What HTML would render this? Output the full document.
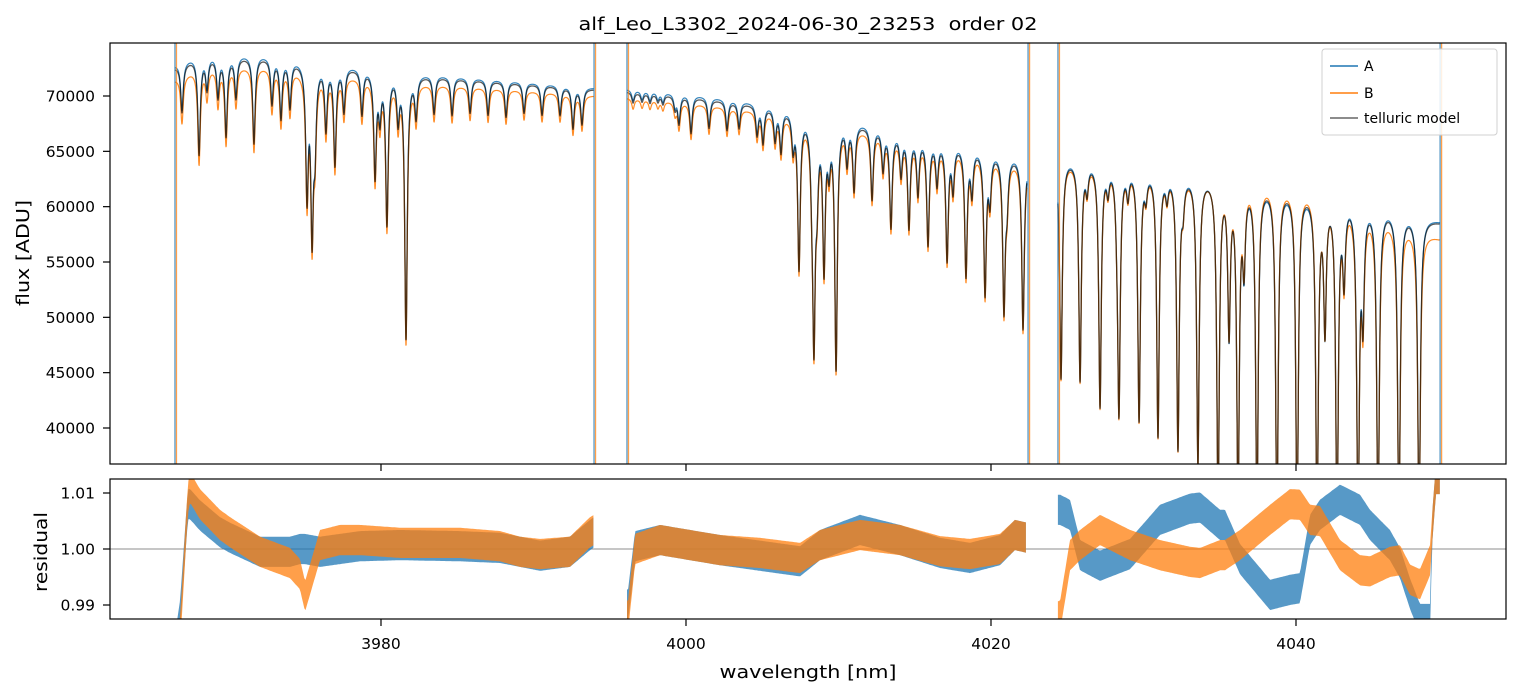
<!DOCTYPE html>
<html><head><meta charset="utf-8"><style>
html,body{margin:0;padding:0;background:#fff;}
svg{display:block;font-family:"DejaVu Sans","Liberation Sans",sans-serif;}
</style></head><body>
<svg id="chart" width="1520" height="696" viewBox="0 0 1520 696" xmlns="http://www.w3.org/2000/svg">
<defs>
<clipPath id="clipTop"><rect x="110" y="43" width="1396" height="421"/></clipPath>
<clipPath id="clipBot"><rect x="110" y="479" width="1396" height="140"/></clipPath>
</defs>
<rect width="1520" height="696" fill="#fff"/>
<text x="808" y="30" text-anchor="middle" font-size="18" textLength="459" lengthAdjust="spacingAndGlyphs" fill="#000" style="white-space:pre" xml:space="preserve">alf_Leo_L3302_2024-06-30_23253  order 02</text>
<g id="topMarks" clip-path="url(#clipTop)"></g>
<g id="botMarks" clip-path="url(#clipBot)"></g>
<g id="axes"></g>
<text transform="translate(29,253) rotate(-90)" text-anchor="middle" font-size="18" textLength="106" lengthAdjust="spacingAndGlyphs">flux [ADU]</text>
<text transform="translate(47,552) rotate(-90)" text-anchor="middle" font-size="18" textLength="80" lengthAdjust="spacingAndGlyphs">residual</text>
<text x="808" y="678" text-anchor="middle" font-size="18" textLength="177" lengthAdjust="spacingAndGlyphs">wavelength [nm]</text>
<g>
<rect x="1322" y="49" width="175" height="86" rx="3" fill="#fff" fill-opacity="0.85" stroke="#d0d0d0"/>
<g><line x1="1330" y1="66" x2="1358" y2="66" stroke="#1f77b4" stroke-width="1.5"/><text x="1364" y="71" font-size="14">A</text></g>
<g><line x1="1330" y1="93" x2="1358" y2="93" stroke="#ff7f0e" stroke-width="1.5"/><text x="1364" y="98" font-size="14">B</text></g>
<g><line x1="1330" y1="118" x2="1358" y2="118" stroke="#000" stroke-opacity="0.6" stroke-width="1.5"/><text x="1364" y="123" font-size="14">telluric model</text></g>
</g>
</svg>
<script>
// ---- data ----
const segments = [[3966.49, 3993.97], [3996.13, 4022.36], [4024.39, 4049.45]];
const contWave = [3966.5, 3968, 3972, 3975, 3978.6, 3981, 3985.2, 3989, 3994, 3996.1, 4000, 4004, 4007, 4009, 4010.5, 4014, 4018, 4022.4, 4024.4, 4026, 4033, 4038, 4043.5, 4049.5];
const contFlux = [72600, 73500, 73550, 73100, 72500, 72100, 71600, 71200, 70600, 70400, 70000, 69300, 68700, 68000, 67800, 66700, 65700, 64400, 64400, 64400, 63100, 62200, 61000, 58600];
const lineCenters = [3966.95, 3968.07, 3968.59, 3969.31, 3969.84, 3970.49, 3971.67, 3972.85, 3973.44, 3974.03, 3975.15, 3975.48, 3975.67, 3976.39, 3976.98, 3977.57, 3978.75, 3979.61, 3979.93, 3980.39, 3981.12, 3981.64, 3982.30, 3983.48, 3984.66, 3985.84, 3987.02, 3988.20, 3989.38, 3990.56, 3991.74, 3992.59, 3993.18,
 3996.53, 3997.12, 3997.64, 3998.16, 3998.49, 3999.28,
 3999.54, 4000.33, 4001.51, 4002.69, 4003.48, 4004.66, 4005.05, 4005.84, 4006.23, 4007.02, 4007.41, 4008.26, 4008.39, 4008.59, 4009.05, 4009.38, 4009.84, 4010.56, 4011.02, 4012.20, 4012.92, 4013.44, 4014.10, 4014.62, 4015.21, 4015.87, 4016.46, 4017.12, 4017.51, 4018.36, 4018.75, 4019.61, 4019.93, 4020.85, 4021.05, 4022.10,
 4024.59, 4025.84, 4026.30, 4027.15, 4027.67, 4028.26, 4028.39, 4028.98, 4029.71, 4030.16, 4030.95, 4031.54, 4032.26, 4032.59, 4033.57, 4034.89, 4035.61, 4036.20, 4036.59, 4037.44, 4038.75, 4040.07, 4041.38, 4041.90, 4042.69, 4043.15, 4044.07, 4044.39, 4045.38, 4046.75, 4048.07];
const lineMinFlux = [68554, 64760, 70723, 70000, 66476, 69910, 65753, 69367, 68102, 69096, 61235, 57892, 66295, 67199, 63946, 68735, 68464, 62862, 68464, 58615, 68102, 48133, 68283, 68464, 68283, 68464, 68283, 68102, 68464, 68283, 68283, 67108, 67470,
 69400, 69500, 69400, 69500, 69300, 68900,
 67560, 66657, 67108, 66928, 67108, 66566, 65843, 66114, 65120, 65572, 54638, 64217, 48404, 62410, 54638, 64217, 45512, 64217, 61687, 60783, 63494, 58253, 63042, 58253, 61325, 56717, 62229, 55361, 61777, 53916, 61506, 52289, 60874, 50843, 61054, 49000,
 44519, 44428, 61958, 42079, 61958, 61235, 41808, 61506, 40814, 61506, 39368, 61325, 38284, 60603, 36838, 33000, 48946, 33000, 55181, 32000, 31000, 31000, 31000, 49307, 31000, 53826, 31000, 50482, 31000, 31000, 31000];
const ratioWave = [3966.5, 3970, 3994, 3996, 4022, 4024.4, 4033, 4037, 4041, 4043, 4044, 4049.5];
const ratioA = [1.003, 1.003, 1.002, 1.003, 1.003, 1.002, 1.002, 0.998, 0.997, 1.001, 1.003, 1.002];
const ratioB = [0.985, 0.988, 0.992, 0.992, 0.993, 0.997, 0.998, 1.004, 1.004, 0.994, 0.99, 0.975];
const residWave = [3966.6, 3966.82, 3967.34, 3967.48, 3968.13, 3969.44, 3970.10, 3972.07, 3974.03, 3974.69, 3975.02, 3976.00, 3977.31, 3978.62, 3981.25, 3985.18, 3987.80, 3989.12, 3990.43, 3992.39, 3993.71, 3993.97,
 3996.2, 3996.66, 3998.30, 4000.26, 4002.23, 4004.85, 4007.48, 4008.79, 4011.41, 4014.03, 4016.66, 4018.62, 4020.59, 4021.57, 4022.36,
 4024.53, 4025.18, 4025.84, 4027.15, 4029.12, 4031.08, 4033.05, 4033.71, 4035.02, 4035.34, 4036.33, 4038.30, 4039.61, 4040.26, 4040.92, 4041.57, 4042.89, 4044.20, 4044.85, 4046.16, 4046.82, 4047.48, 4048.13, 4048.79, 4048.92, 4049.18];
const residA = [0.984, 0.988, 1.008, 1.008, 1.006, 1.003, 1.002, 0.9995, 0.9995, 1.0, 1.0, 0.9995, 1.0, 1.0005, 1.0007, 1.0005, 1.0002, 0.9995, 0.9988, 0.9995, 1.0025, 1.003,
 0.990, 1.0005, 1.0016, 1.0007, 0.9998, 0.9988, 0.9978, 1.0007, 1.0034, 1.0016, 0.9993, 0.9984, 0.9998, 1.0025, 1.002,
 1.007, 1.0061, 0.9989, 0.997, 0.9991, 1.0052, 1.0072, 1.0074, 1.0043, 1.0043, 0.9982, 0.9918, 0.9927, 0.993, 1.0034, 1.0061, 1.0088, 1.0070, 1.0043, 1.0007, 0.9975, 0.992, 0.9875, 0.9875, 1.0034, 1.0125];
const residB = [0.982, 0.985, 1.009, 1.011, 1.008, 1.0043, 1.003, 0.9995, 0.9975, 0.9955, 0.9915, 1.0007, 1.0016, 1.0016, 1.0011, 1.0011, 1.0005, 0.9995, 0.9991, 0.9995, 1.003, 1.0034,
 0.988, 1.0, 1.0016, 1.0007, 0.9998, 0.9993, 0.9984, 1.0007, 1.0025, 1.0016, 0.9996, 0.9991, 1.0, 1.0025, 1.002,
 0.988, 0.9989, 1.0007, 1.0034, 1.0007, 0.9989, 0.9977, 0.9975, 0.9989, 0.9989, 1.0007, 1.0052, 1.0080, 1.0079, 1.0052, 1.0050, 0.9989, 0.9962, 0.996, 0.9977, 0.9980, 0.9945, 0.9937, 0.998, 1.0034, 1.0125];
const xTicks = [3980, 4000, 4020, 4040];
const yTicksTop = [40000, 45000, 50000, 55000, 60000, 65000, 70000];
const yTicksBot = [0.99, 1.00, 1.01];
const edgeWaves = [3966.49, 3993.97, 3996.13, 4022.43, 4024.39, 4049.45];

// ---- scales ----
const X0 = 110, X1 = 1506;
const xMin = 3962.23, xMax = xMin + (X1 - X0) / 15.25;
const x = v => X0 + (v - xMin) / (xMax - xMin) * (X1 - X0);
const yTop = v => 96 + (70000 - v) * (332 / 30000);
const yBot = v => 549 - (v - 1.0) * 5600;
const NS = 'http://www.w3.org/2000/svg';
function interp(xs, ys, v) {
  if (v <= xs[0]) return ys[0];
  for (let i = 1; i < xs.length; i++) if (v <= xs[i]) { const t = (v - xs[i-1]) / (xs[i] - xs[i-1]); return ys[i-1] + t * (ys[i] - ys[i-1]); }
  return ys[ys.length - 1];
}
const gamma = 0.1;
const depths = lineCenters.map((c, i) => Math.min(0.995, Math.max(0, 1 - lineMinFlux[i] / interp(contWave, contFlux, c))));
function model(l) {
  let f = interp(contWave, contFlux, l);
  for (let i = 0; i < lineCenters.length; i++) {
    const d = (l - lineCenters[i]) / gamma;
    if (Math.abs(d) < 40) f *= 1 - depths[i] / (1 + d * d);
  }
  return f;
}
const topG = document.getElementById('topMarks');
const botG = document.getElementById('botMarks');
const axesG = document.getElementById('axes');
function mk(tag, attrs, parent) { const e = document.createElementNS(NS, tag); for (const k in attrs) e.setAttribute(k, attrs[k]); parent.appendChild(e); return e; }

// ---- flux series ----
const series = [
  { name: 'series-a-line', color: '#1f77b4', r: ratioA, op: 0.9, w: 1.2 },
  { name: 'series-b-line', color: '#ff7f0e', r: ratioB, op: 0.9, w: 1.2 },
  { name: 'telluric-model-line', color: '#000', r: null, op: 0.65, w: 1.3 }
];
series.forEach(s => {
  segments.forEach((seg, si) => {
    let pts = [];
    for (let l = seg[0]; l <= seg[1]; l += 0.012) {
      let f = model(l);
      if (s.r) f *= interp(ratioWave, s.r, l);
      pts.push(x(l).toFixed(2) + ',' + yTop(f).toFixed(2));
    }
    const p = mk('polyline', { points: pts.join(' '), fill: 'none', stroke: s.color, 'stroke-width': s.w, 'stroke-opacity': s.op, 'stroke-linejoin': 'round' }, topG);
    
    
  });
});
edgeWaves.forEach((w, i) => {
  const a = mk('line', { x1: x(w), x2: x(w), y1: 43, y2: 464, stroke: '#1f77b4', 'stroke-width': 1.3, 'stroke-opacity': 0.75 }, topG);
  
  
  const b = mk('line', { x1: x(w) + 1.5, x2: x(w) + 1.5, y1: 43, y2: 464, stroke: '#ff7f0e', 'stroke-width': 1.3, 'stroke-opacity': 0.75 }, topG);
  
  
});

// ---- residuals ----
mk('line', { x1: X0, x2: X1, y1: yBot(1), y2: yBot(1), stroke: '#000', 'stroke-opacity': 0.6, 'stroke-width': 0.8 }, botG);
[[residA, '#1f77b4', 'residual-a'], [residB, '#ff7f0e', 'residual-b']].forEach(([arr, col, nm]) => {
  segments.forEach((seg, si) => {
    const idx = residWave.map((w, i) => i).filter(i => residWave[i] >= seg[0] - 0.2 && residWave[i] <= seg[1] + 0.2);
    const up = [], dn = [];
    for (let l = seg[0]; l <= seg[1]; l += 0.08) {
      const v = interp(idx.map(i => residWave[i]), idx.map(i => arr[i]), l);
      up.push(x(l).toFixed(1) + ',' + yBot(v + 0.0027).toFixed(1));
      dn.unshift(x(l).toFixed(1) + ',' + yBot(v - 0.0027).toFixed(1));
    }
    const b = mk('polygon', { points: up.concat(dn).join(' '), fill: col, 'fill-opacity': 0.75 }, botG);
    
    
  });
});

// ---- axes ----
[[43, 421, 'flux-axes-frame'], [479, 140, 'residual-axes-frame']].forEach(([y, h, nm]) => {
  const r = mk('rect', { x: X0, y: y, width: X1 - X0, height: h, fill: 'none', stroke: '#000', 'stroke-width': 1.2 }, axesG);
  
  
});
xTicks.forEach(t => {
  const px = x(t);
  mk('line', { x1: px, x2: px, y1: 464, y2: 471, stroke: '#000', 'stroke-width': 1.2 }, axesG);
  mk('line', { x1: px, x2: px, y1: 619, y2: 626, stroke: '#000', 'stroke-width': 1.2 }, axesG);
  const tx = mk('text', { x: px, y: 649, 'text-anchor': 'middle', 'font-size': 15.5 }, axesG);
  tx.textContent = t;
  
  
});
yTicksTop.forEach(t => {
  const py = yTop(t);
  mk('line', { x1: X0 - 7, x2: X0, y1: py, y2: py, stroke: '#000', 'stroke-width': 1.2 }, axesG);
  const tx = mk('text', { x: X0 - 15, y: py + 5.5, 'text-anchor': 'end', 'font-size': 15.5 }, axesG);
  tx.textContent = t;
  
  
});
yTicksBot.forEach(t => {
  const py = yBot(t);
  mk('line', { x1: X0 - 7, x2: X0, y1: py, y2: py, stroke: '#000', 'stroke-width': 1.2 }, axesG);
  const tx = mk('text', { x: X0 - 15, y: py + 5.5, 'text-anchor': 'end', 'font-size': 15.5 }, axesG);
  tx.textContent = t.toFixed(2);
  
  
});
</script>
</body></html>
